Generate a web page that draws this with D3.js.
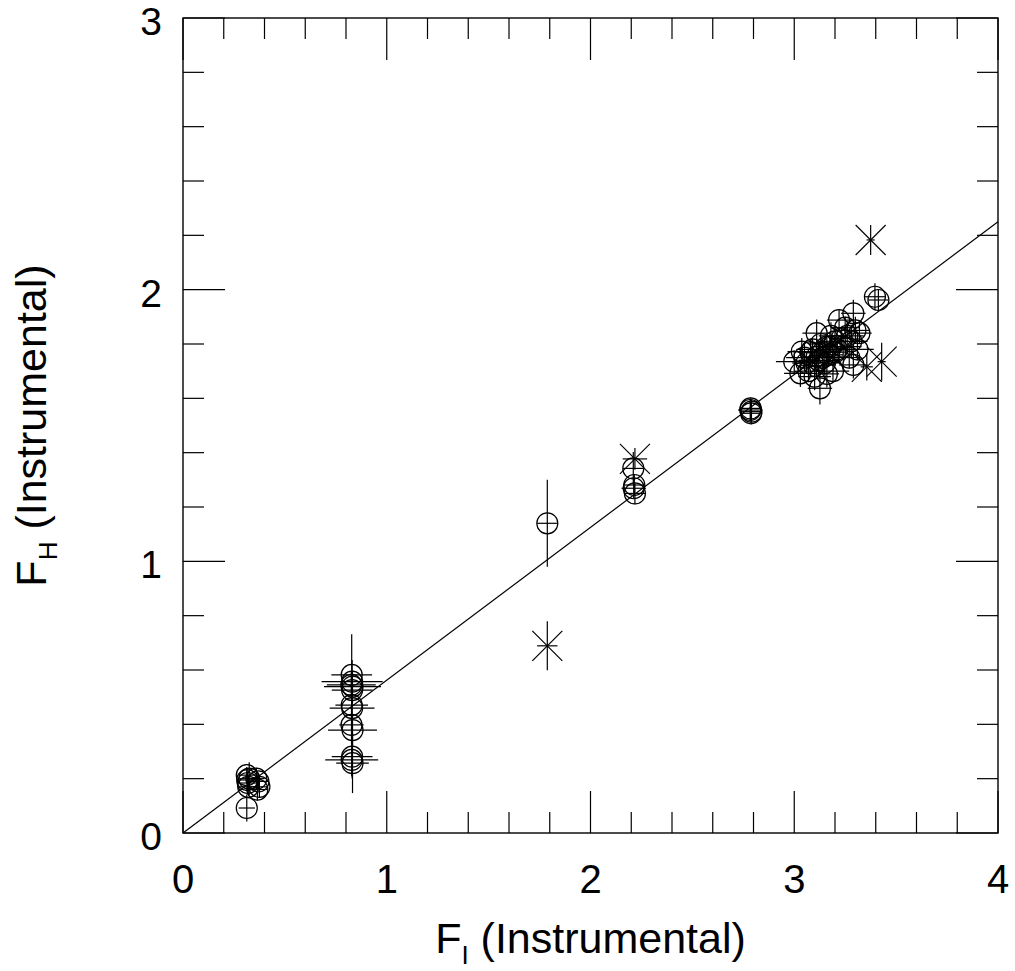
<!DOCTYPE html>
<html>
<head>
<meta charset="utf-8">
<script src="https://cdn.jsdelivr.net/npm/d3@7"></script>
<style>
  body { margin: 0; background: #fff; }
  text { font-family: "Liberation Sans", Arial, sans-serif; fill: #000; }
</style>
</head>
<body>
<svg id="chart"></svg>
<script>
// circles: F_I, F_H and their errors
const circleX = [
  0.313, 0.315, 0.318, 0.320, 0.313, 0.325, 0.360, 0.370, 0.375, 0.365,
  0.828, 0.830, 0.826, 0.832, 0.830, 0.828, 0.830, 0.827, 0.832, 0.830, 0.828, 0.832,
  1.788,
  2.210, 2.215, 2.212, 2.218,
  2.786, 2.784, 2.790, 2.788,
  3.290, 3.220, 3.110, 3.280, 3.320, 3.037, 3.000, 3.030, 3.126, 3.290,
  3.110, 3.175, 3.233, 3.050, 3.070, 3.080, 3.090, 3.100, 3.120, 3.130,
  3.140, 3.150, 3.160, 3.170, 3.180, 3.190, 3.200, 3.210, 3.240, 3.250,
  3.260, 3.270, 3.300, 3.310, 3.160, 3.060, 3.100, 3.140, 3.200,
  3.396, 3.413
];
const circleY = [
  0.213, 0.195, 0.184, 0.170, 0.092, 0.200, 0.200, 0.190, 0.170, 0.160,
  0.582, 0.557, 0.545, 0.539, 0.526, 0.471, 0.460, 0.398, 0.379, 0.281, 0.269, 0.257,
  1.140,
  1.342, 1.281, 1.269, 1.250,
  1.563, 1.557, 1.551, 1.545,
  1.913, 1.888, 1.840, 1.810, 1.840, 1.772, 1.735, 1.692, 1.637, 1.723,
  1.753, 1.790, 1.821, 1.750, 1.700, 1.770, 1.780, 1.720, 1.740, 1.800,
  1.770, 1.730, 1.790, 1.760, 1.830, 1.700, 1.810, 1.780, 1.790, 1.860,
  1.830, 1.750, 1.850, 1.780, 1.690, 1.730, 1.680, 1.750, 1.770,
  1.974, 1.962
];
const circleXErr = [
  0.04, 0.05, 0.04, 0.05, 0.04, 0.05, 0.04, 0.05, 0.04, 0.05,
  0.10, 0.15, 0.12, 0.14, 0.10, 0.08, 0.11, 0.06, 0.12, 0.10, 0.13, 0.08,
  0.05,
  0.05, 0.05, 0.06, 0.05,
  0.05, 0.06, 0.05, 0.05,
  0.06, 0.06, 0.07, 0.08, 0.06, 0.07, 0.09, 0.08, 0.06, 0.07,
  0.08, 0.07, 0.06, 0.09, 0.07, 0.06, 0.08, 0.07, 0.10, 0.06,
  0.07, 0.08, 0.06, 0.07, 0.06, 0.08, 0.07, 0.06, 0.09, 0.07,
  0.08, 0.06, 0.07, 0.08, 0.06, 0.07, 0.08, 0.07, 0.06,
  0.05, 0.05
];
const circleYErr = [
  0.03, 0.04, 0.04, 0.03, 0.05, 0.06, 0.04, 0.03, 0.04, 0.04,
  0.15, 0.08, 0.05, 0.06, 0.05, 0.06, 0.05, 0.07, 0.06, 0.08, 0.06, 0.11,
  0.16,
  0.06, 0.04, 0.04, 0.04,
  0.04, 0.04, 0.045, 0.04,
  0.05, 0.04, 0.05, 0.06, 0.04, 0.05, 0.04, 0.05, 0.06, 0.05,
  0.04, 0.05, 0.04, 0.05, 0.04, 0.05, 0.04, 0.05, 0.06, 0.04,
  0.05, 0.04, 0.05, 0.04, 0.05, 0.04, 0.05, 0.04, 0.05, 0.04,
  0.05, 0.04, 0.05, 0.04, 0.05, 0.04, 0.05, 0.04, 0.05,
  0.05, 0.04
];

// asterisks
const starX = [1.788, 2.218, 3.375, 3.356, 3.429];
const starY = [0.689, 1.377, 2.183, 1.716, 1.735];
const starXErr = [0.05, 0.06, 0.02, 0.03, 0.02];
const starYErr = [0.09, 0.04, 0.055, 0.05, 0.07];

// fitted line F_H = slope * F_I
const fitSlope = 0.5625;

const xTicks = [0, 1, 2, 3, 4];
const yTicks = [0, 1, 2, 3];
const xLabel = "F";
const xLabelSub = "I";
const yLabel = "F";
const yLabelSub = "H";
const axisRest = " (Instrumental)";

const width = 1015, height = 971;
const margin = {top: 18, right: 17, bottom: 138, left: 183};
const plotW = width - margin.left - margin.right;
const plotH = height - margin.top - margin.bottom;

const x = d3.scaleLinear().domain([0, 4]).range([margin.left, margin.left + plotW]);
const y = d3.scaleLinear().domain([0, 3]).range([margin.top + plotH, margin.top]);

const svg = d3.select('#chart')
    .attr("width", width)
    .attr("height", height);

const majorLen = 42, minorLen = 21;
const ticks = svg.append("g").attr("stroke", "#000").attr("stroke-width", 1.2);

// x ticks, bottom and top
d3.range(0, 4.001, 0.2).forEach(function(v) {
  const major = Math.abs(v - Math.round(v)) < 1e-6;
  const len = major ? majorLen : minorLen;
  ticks.append("line").attr("x1", x(v)).attr("x2", x(v))
    .attr("y1", y(0)).attr("y2", y(0) - len);
  ticks.append("line").attr("x1", x(v)).attr("x2", x(v))
    .attr("y1", y(3)).attr("y2", y(3) + len);
});
// y ticks, left and right
d3.range(0, 3.001, 0.2).forEach(function(v) {
  const major = Math.abs(v - Math.round(v)) < 1e-6;
  const len = major ? majorLen : minorLen;
  ticks.append("line").attr("y1", y(v)).attr("y2", y(v))
    .attr("x1", x(0)).attr("x2", x(0) + len);
  ticks.append("line").attr("y1", y(v)).attr("y2", y(v))
    .attr("x1", x(4)).attr("x2", x(4) - len);
});

svg.append("rect")
    .attr("x", x(0)).attr("y", y(3))
    .attr("width", x(4) - x(0)).attr("height", y(0) - y(3))
    .attr("fill", "none").attr("stroke", "#000").attr("stroke-width", 1.4);

// tick labels
svg.selectAll(".xtick").data(xTicks).enter().append("text")
    .attr("class", "xtick")
    .attr("x", d => x(d)).attr("y", y(0) + 60)
    .attr("text-anchor", "middle")
    .attr("font-size", 40)
    .text(d => d);
svg.selectAll(".ytick").data(yTicks).enter().append("text")
    .attr("class", "ytick")
    .attr("x", x(0) - 21).attr("y", d => y(d) + 17)
    .attr("text-anchor", "end")
    .attr("font-size", 39)
    .text(d => d);

// axis titles
const xt = svg.append("text")
    .attr("x", x(2)).attr("y", 953)
    .attr("text-anchor", "middle")
    .attr("font-size", 43);
xt.append("tspan").text(xLabel);
xt.append("tspan").attr("font-size", 26).attr("dy", 11).text(xLabelSub);
xt.append("tspan").attr("dy", -11).text(axisRest);

const yt = svg.append("text")
    .attr("transform", "translate(46," + y(1.5) + ") rotate(-90)")
    .attr("text-anchor", "middle")
    .attr("font-size", 43);
yt.append("tspan").text(yLabel);
yt.append("tspan").attr("font-size", 26).attr("dy", 11).text(yLabelSub);
yt.append("tspan").attr("dy", -11).text(axisRest);

// fit line
svg.append("line")
    .attr("x1", x(0)).attr("y1", y(0))
    .attr("x2", x(4)).attr("y2", y(4 * fitSlope))
    .attr("stroke", "#000").attr("stroke-width", 1.2);

const circles = circleX.map((v, i) => ({x: v, y: circleY[i], ex: circleXErr[i], ey: circleYErr[i]}));
const stars = starX.map((v, i) => ({x: v, y: starY[i], ex: starXErr[i], ey: starYErr[i]}));

const marks = svg.append("g").attr("stroke", "#000").attr("fill", "none").attr("stroke-width", 1.2);

function errorBars(sel) {
  sel.append("line")
      .attr("x1", d => x(d.x - d.ex)).attr("x2", d => x(d.x + d.ex))
      .attr("y1", d => y(d.y)).attr("y2", d => y(d.y));
  sel.append("line")
      .attr("x1", d => x(d.x)).attr("x2", d => x(d.x))
      .attr("y1", d => y(d.y - d.ey)).attr("y2", d => y(d.y + d.ey));
}

const cg = marks.selectAll(".pt").data(circles).enter().append("g").attr("class", "pt");
cg.append("circle")
    .attr("cx", d => x(d.x)).attr("cy", d => y(d.y))
    .attr("r", 10.5);
errorBars(cg);

const sg = marks.selectAll(".st").data(stars).enter().append("g").attr("class", "st");
const s = 15;
sg.append("line")
    .attr("x1", d => x(d.x) - s).attr("y1", d => y(d.y) - s)
    .attr("x2", d => x(d.x) + s).attr("y2", d => y(d.y) + s);
sg.append("line")
    .attr("x1", d => x(d.x) - s).attr("y1", d => y(d.y) + s)
    .attr("x2", d => x(d.x) + s).attr("y2", d => y(d.y) - s);
errorBars(sg);
</script>
</body>
</html>
